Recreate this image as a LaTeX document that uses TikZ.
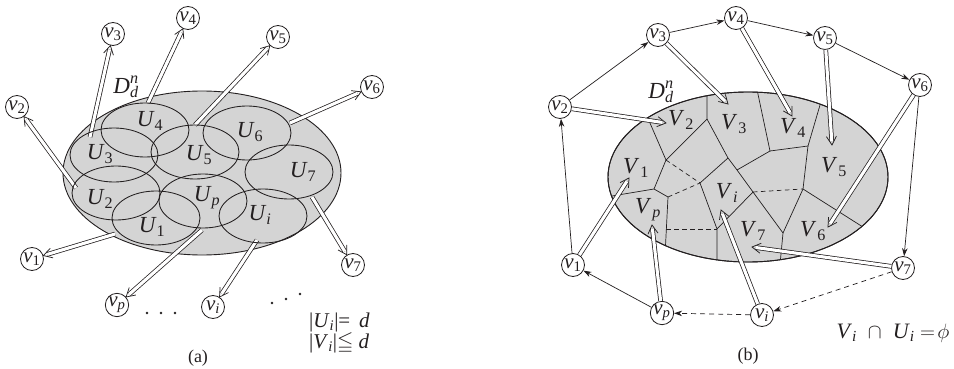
\documentclass[tikz,border=0pt]{standalone}
\usepackage{amssymb}
\usepackage{fontspec}
\setmainfont{Liberation Serif}
\usetikzlibrary{arrows.meta,calc}

\definecolor{diskgray}{HTML}{D4D4D4}
\definecolor{ink}{HTML}{231F20}

% double-lined arrow with an open chevron head, from #1 to #2
\newcommand\dblarrow[2]{%
  \path (#1) -- (#2) coordinate[pos=0] (dbl-s) coordinate[pos=1] (dbl-t);
  \draw[shaft] (dbl-s) -- ($(dbl-t)!4pt!(dbl-s)$);
  \draw[barb] ($(dbl-t)!10pt!30:(dbl-s)$) -- (dbl-t) -- ($(dbl-t)!10pt!-30:(dbl-s)$);
}
\newcommand\vv[1]{\textit{v}\textsubscript{#1}}
\newcommand\uu[1]{\textit{U}\textsubscript{#1}}
\newcommand\VV[1]{\textit{V}\kern1pt\textsubscript{#1}}
\newcommand\Ddn{\textit{D}\rlap{\raisebox{1pt}{\textsuperscript{\textit{n}}}}\textsubscript{\textit{d}}}

\begin{document}
\begin{tikzpicture}[x=1pt,y=-1pt, color=ink,
  disk/.style={fill=diskgray, line width=0.9pt},
  ucell/.style={line width=0.85pt},
  vnode/.style={circle, draw=ink, line width=0.8pt, fill=white,
    minimum size=23pt, inner sep=0pt, font=\fontsize{21}{21}\selectfont},
  lbl/.style={inner sep=0pt, font=\fontsize{23}{23}\selectfont},
  shaft/.style={double=white, double distance=3.1pt, line width=0.75pt},
  barb/.style={line width=0.75pt, line join=miter},
  link/.style={line width=0.7pt, -{Stealth[length=8pt,width=5.5pt]}},
  cell/.style={line width=0.7pt},
  gap/.style={line width=0.7pt, dash pattern=on 4.5pt off 3.5pt},
]
\fill[white] (0,0) rectangle (954,369);
\useasboundingbox (0,0) rectangle (954,369);

% ---------------- (a) ----------------
\draw[disk] (202,173) ellipse [x radius=139pt, y radius=82pt];
\node[lbl] (Da) at (126,87) {\Ddn};

\node[vnode] (a2) at (17,107) {\vv{2}};
\node[vnode] (a3) at (113,34) {\vv{3}};
\node[vnode] (a4) at (188,18) {\vv{4}};
\node[vnode] (a5) at (278,37) {\vv{5}};
\node[vnode] (a6) at (372,87) {\vv{6}};
\node[vnode] (a7) at (353,265) {\vv{7}};
\node[vnode] (a1) at (32,259) {\vv{1}};
\node[vnode] (ap) at (117,305) {\vv{\textit{p}}};
\node[vnode] (ai) at (213,307) {\vv{\textit{i}}};

\coordinate (s2) at (76,188);
\coordinate (s3) at (90,137);
\coordinate (s4) at (148,103);
\coordinate (s5) at (195,125);
\coordinate (s6) at (290,123);
\coordinate (s1) at (115,234);
\coordinate (sp) at (202,230);
\coordinate (si) at (257,240);
\coordinate (s7) at (312,197);

\dblarrow{s2}{a2}
\dblarrow{s3}{a3}
\dblarrow{s4}{a4}
\dblarrow{s5}{a5}
\dblarrow{s6}{a6}
\dblarrow{s1}{a1}
\dblarrow{sp}{ap}
\dblarrow{si}{ai}
\dblarrow{s7}{a7}

\foreach \c in {(145,130),(114,155),(195,152),(247,133),(289,172),
                (116,193),(156,218),(203,201),(263,216)}
  \draw[ucell] \c ellipse [x radius=44pt, y radius=27pt];

\node[lbl] (U4) at (150,121) {\uu{4}};
\node[lbl] (U3) at (100,154) {\uu{3}};
\node[lbl] (U5) at (199,155) {\uu{5}};
\node[lbl] (U6) at (250,132) {\uu{6}};
\node[lbl] (U7) at (303,172) {\uu{7}};
\node[lbl] (U2) at (100,199) {\uu{2}};
\node[lbl] (U1) at (152,227) {\uu{1}};
\node[lbl] (Up) at (207,198) {\uu{\textit{p}}};
\node[lbl] (Ui) at (260,215) {\uu{\textit{i}}};

\foreach \p in {(147,313),(161,313),(175,313),(272,303),(286,299),(300,294)}
  \fill \p circle (1.3pt);

\node[lbl, anchor=north west, align=left,
      font=\fontsize{21}{21}\selectfont] (rule) at (309,313)
  {|\textit{U}\textsubscript{\textit{i}}|=\ \,\textit{d}\\
   |\textit{V}\textsubscript{\textit{i}}|$\leqq$\ \textit{d}};
\node[inner sep=0pt, font=\fontsize{18}{18}\selectfont] (capa) at (198,358) {(a)};

% ---------------- (b) ----------------
\draw[disk] (748,177) ellipse [x radius=140pt, y radius=85pt];

\coordinate (P1) at (707,80);
\coordinate (P2) at (707,119);
\coordinate (q1) at (640,100);
\coordinate (q2) at (666,160);
\coordinate (q3) at (654,189);
\coordinate (q4) at (600,198);
\coordinate (q5) at (668,197);
\coordinate (q6) at (664,275);
\coordinate (q6d) at (666,229);
\coordinate (q7) at (717,229);
\coordinate (q7b) at (717,275);
\coordinate (q8) at (700,183);
\coordinate (q9) at (728,158);
\coordinate (c1) at (737,170);
\coordinate (b1) at (755,80);
\coordinate (b2) at (770,151);
\coordinate (b3) at (808,146);
\coordinate (b4) at (825,88);
\coordinate (d1) at (753,192);
\coordinate (e1) at (803,189);
\coordinate (f1) at (783,233);
\coordinate (f2) at (779,275);
\coordinate (e2) at (885,241);

\begin{scope}
  \clip (748,177) ellipse [x radius=140pt, y radius=85pt];
  \draw[cell] (P1) -- (P2) -- (q2) -- (q1);
  \draw[cell] (q2) -- (q3) -- (q4);
  \draw[cell] (q3) -- (q5) -- (q6);
  \draw[cell] (P2) -- (q9) -- (c1) -- (d1) -- (f1) -- (f2);
  \draw[cell] (q9) -- (q8) -- (q7) -- (q7b);
  \draw[cell] (q7) -- (d1);
  \draw[cell] (c1) -- (b2) -- (b1);
  \draw[cell] (b2) -- (b3) -- (b4);
  \draw[cell] (b3) -- (e1) -- (f1);
  \draw[cell] (e1) -- (e2);
  \draw[gap] (q2) -- (q8);
  \draw[gap] (q5) -- (q8);
  \draw[gap] (q6d) -- (q7);
  \draw[gap] (d1) -- (e1);
\end{scope}
\draw[line width=0.9pt] (748,177) ellipse [x radius=140pt, y radius=85pt];

\node[lbl] (Db) at (661,92) {\Ddn};

\node[lbl] (V2) at (681,120) {\VV{2}};
\node[lbl] (V3) at (734,124) {\VV{3}};
\node[lbl] (V4) at (793,128) {\VV{4}};
\node[lbl] (V5) at (834,167) {\VV{5}};
\node[lbl] (V1) at (636,168) {\VV{1}};
\node[lbl] (Vp) at (648,210) {\VV{\textit{p}}};
\node[lbl] (Vi) at (727,193) {\VV{\textit{i}}};
\node[lbl] (V7) at (753,231) {\VV{7}};
\node[lbl] (V6) at (813,231) {\VV{6}};

\node[vnode] (b2n) at (560,107) {\vv{2}};
\node[vnode] (b3n) at (658,35) {\vv{3}};
\node[vnode] (b4n) at (736,18) {\vv{4}};
\node[vnode] (b5n) at (825,38) {\vv{5}};
\node[vnode] (b6n) at (920,85) {\vv{6}};
\node[vnode] (b7n) at (903,268) {\vv{7}};
\node[vnode] (bin) at (762,315) {\vv{\textit{i}}};
\node[vnode] (bpn) at (662,313) {\vv{\textit{p}}};
\node[vnode] (b1n) at (573,265) {\vv{1}};

\draw[link] (b2n) -- (b3n);
\draw[link] (b3n) -- (b4n);
\draw[link] (b4n) -- (b5n);
\draw[link] (b5n) -- (b6n);
\draw[link] (b6n) -- (b7n);
\draw[link, dash pattern=on 5pt off 4pt] (b7n) -- (bin);
\draw[link, dash pattern=on 5pt off 4pt] (bin) -- (bpn);
\draw[link] (bpn) -- (b1n);
\draw[link] (b1n) -- (b2n);

\coordinate (tV2) at (666,123);
\coordinate (tV3) at (728,104);
\coordinate (tV4) at (792,116);
\coordinate (tV5) at (832,145);
\coordinate (tV6) at (828,227);
\coordinate (tV7) at (752,247);
\coordinate (tVi) at (721,210);
\coordinate (tVp) at (652,225);
\coordinate (tV1) at (629,178);

\dblarrow{b2n}{tV2}
\dblarrow{b3n}{tV3}
\dblarrow{b4n}{tV4}
\dblarrow{b5n}{tV5}
\dblarrow{b6n}{tV6}
\dblarrow{b7n}{tV7}
\dblarrow{bin}{tVi}
\dblarrow{bpn}{tVp}
\dblarrow{b1n}{tV1}

\node[lbl, font=\fontsize{22}{22}\selectfont] (cap) at (893,333)
  {\textit{V}\textsubscript{\textit{i}}\ \ $\cap$\ \ \textit{U}\textsubscript{\textit{i}}\ $=\!\phi$};
\node[inner sep=0pt, font=\fontsize{18}{18}\selectfont] (capb) at (748,356) {(b)};
\end{tikzpicture}
\end{document}
